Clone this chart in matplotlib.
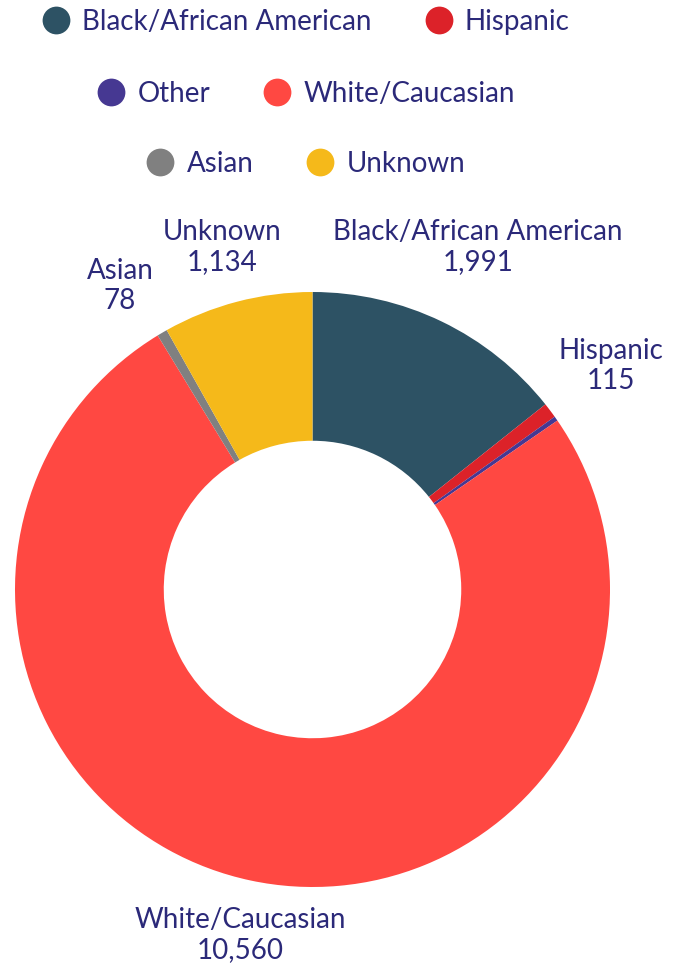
import matplotlib
matplotlib.use("Agg")
import matplotlib.pyplot as plt
from matplotlib.lines import Line2D

categories = ["Black/African American", "Hispanic", "Other", "White/Caucasian", "Asian", "Unknown"]
values = [1991, 115, 35, 10560, 78, 1134]
colors = ["#2d5264", "#dc2229", "#463892", "#ff4842", "#808080", "#f5b91a"]
label_shown = [True, True, False, True, True, True]
label_pos = [(478, 247), (611, 366), None, (240, 935), (120, 286), (222, 247)]

TXT = "#2b2979"
FONT = "Lato"
FS = 20
plt.rcParams['font.family'] = [FONT, 'DejaVu Sans']

W, H = 685, 965
fig = plt.figure(figsize=(W / 100, H / 100), dpi=100)
ax = fig.add_axes([0, 0, 1, 1])

cx, cy, R = 312.5, 589.5, 297.5
# y-axis is inverted: startangle=-90 is screen-top, counterclock=True renders clockwise on screen
ax.pie(values, colors=colors, startangle=-90, counterclock=True,
       center=(cx, cy), radius=R, frame=True,
       wedgeprops=dict(width=R * 0.5, edgecolor="none", linewidth=0))
ax.set_xlim(0, W)
ax.set_ylim(H, 0)
ax.set_aspect("auto")
ax.axis("off")

for cat, v, show, pos in zip(categories, values, label_shown, label_pos):
    if show and pos:
        ax.text(pos[0], pos[1], f"{cat}\n{v:,}", ha="center", va="center",
                color=TXT, fontsize=FS, linespacing=1.2)

rows = [[0, 1], [2, 3], [4, 5]]
row_y = [22, 94, 164]
for r, yy in zip(rows, row_y):
    handles = [Line2D([], [], marker="o", linestyle="none", markersize=20,
                      markerfacecolor=colors[i], markeredgecolor="none") for i in r]
    fig.legend(handles, [categories[i] for i in r], ncol=2, frameon=False,
               loc="center", bbox_to_anchor=(306 / W, 1 - yy / H),
               prop=dict(family=FONT, size=FS), labelcolor=TXT,
               handletextpad=0.45, columnspacing=1.9, handlelength=1.0,
               borderpad=0)

fig.savefig("out.png", dpi=100)
